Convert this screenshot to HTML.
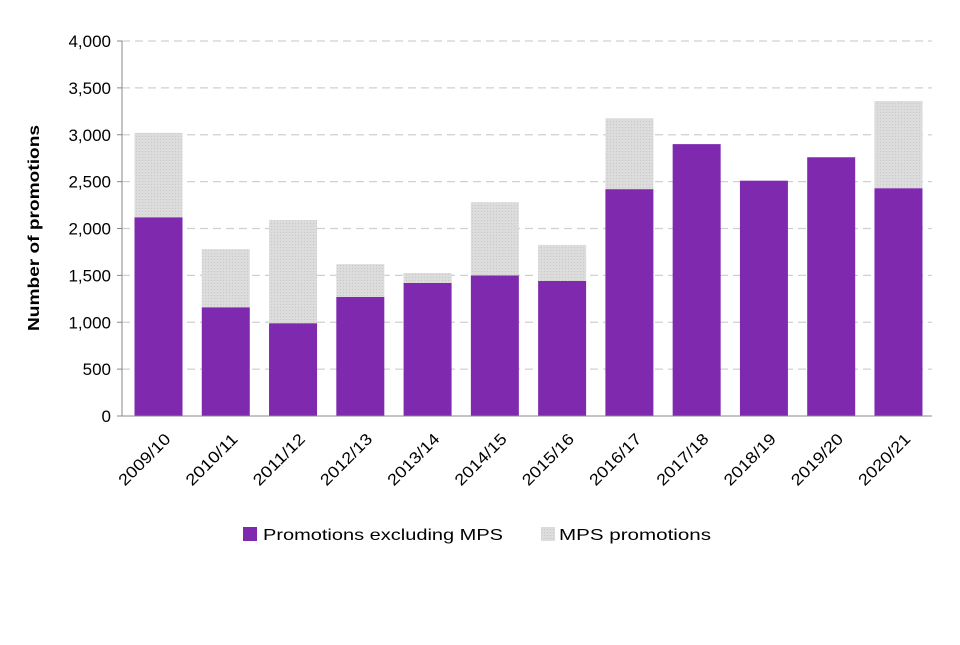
<!DOCTYPE html>
<html><head><meta charset="utf-8"><style>
body{margin:0;background:#fff;}
svg text{font-family:"Liberation Sans",Arial,sans-serif;fill:#000;}
</style></head><body>
<svg id="chart" width="960" height="640">
<defs><pattern id="dots" width="3" height="3" patternUnits="userSpaceOnUse"><rect width="3" height="3" fill="#dcdcdc"/><rect x="1" y="1" width="1" height="1" fill="#c8c8c8"/></pattern></defs>
<g id="grid"></g><g id="bars"></g><g id="axes"></g>
<text transform="translate(39,228) rotate(-90)" text-anchor="middle" font-size="16" font-weight="bold" textLength="206" lengthAdjust="spacingAndGlyphs">Number of promotions</text>
<g>
<rect x="243" y="527" width="14" height="14" fill="#7f2aae"/>
<text x="263" y="540" font-size="16" textLength="240" lengthAdjust="spacingAndGlyphs">Promotions excluding MPS</text>
<rect x="541" y="527" width="14" height="14" fill="url(#dots)"/>
<text x="559" y="540" font-size="16" textLength="152" lengthAdjust="spacingAndGlyphs">MPS promotions</text>
</g>
</svg>
<script>
const categories=["2009/10","2010/11","2011/12","2012/13","2013/14","2014/15","2015/16","2016/17","2017/18","2018/19","2019/20","2020/21"];
const excludingMps=[2120,1160,990,1270,1420,1500,1440,2420,2900,2510,2760,2430];
const mpsPromotions=[900,620,1100,350,105,780,385,755,0,0,0,930];
const yTicks=[0,500,1000,1500,2000,2500,3000,3500,4000];
const NS="http://www.w3.org/2000/svg";
const x0=122,x1=932,yBase=416,yTop=41,yMax=4000;
const y=v=>yBase-v/yMax*(yBase-yTop);
const step=67.27;
const xc=i=>158.5+step*i;
function mk(tag,attrs,parent){const e=document.createElementNS(NS,tag);for(const k in attrs)e.setAttribute(k,attrs[k]);parent.appendChild(e);return e;}
const grid=document.getElementById('grid'),bars=document.getElementById('bars'),axes=document.getElementById('axes');
yTicks.forEach(t=>{
  if(t>0){
    const l=mk('line',{x1:x0,x2:x1,y1:y(t),y2:y(t),stroke:'#d0d0d0','stroke-width':1.3,'stroke-dasharray':'8,5'},grid);
    
    
  }
  const tx=mk('text',{x:x0-11,y:y(t)+6,'text-anchor':'end','font-size':17},axes);
  tx.textContent=t.toLocaleString('en-US');
  
  
  const tk=mk('line',{x1:x0-5,x2:x0,y1:y(t),y2:y(t),stroke:'#888'},axes);
  
  
});
const bw=48;
categories.forEach((c,i)=>{
  const a=excludingMps[i],b=mpsPromotions[i];
  const r1=mk('rect',{x:xc(i)-bw/2,y:y(a),width:bw,height:yBase-y(a),fill:'#7f2aae'},bars);
  
  
  if(b>0){
    const r2=mk('rect',{x:xc(i)-bw/2,y:y(a+b),width:bw,height:y(a)-y(a+b),fill:'url(#dots)'},bars);
    
    
  }
  const tx=mk('text',{transform:`translate(${xc(i)+13},${yBase+24}) rotate(-45)`,'text-anchor':'end','font-size':16,textLength:66,lengthAdjust:'spacingAndGlyphs'},axes);
  tx.textContent=c;
  
  
});
const ya=mk('line',{x1:x0,x2:x0,y1:yTop,y2:yBase,stroke:'#888'},axes);


const xa=mk('line',{x1:x0,x2:x1,y1:yBase,y2:yBase,stroke:'#888'},axes);


</script>
</body></html>
